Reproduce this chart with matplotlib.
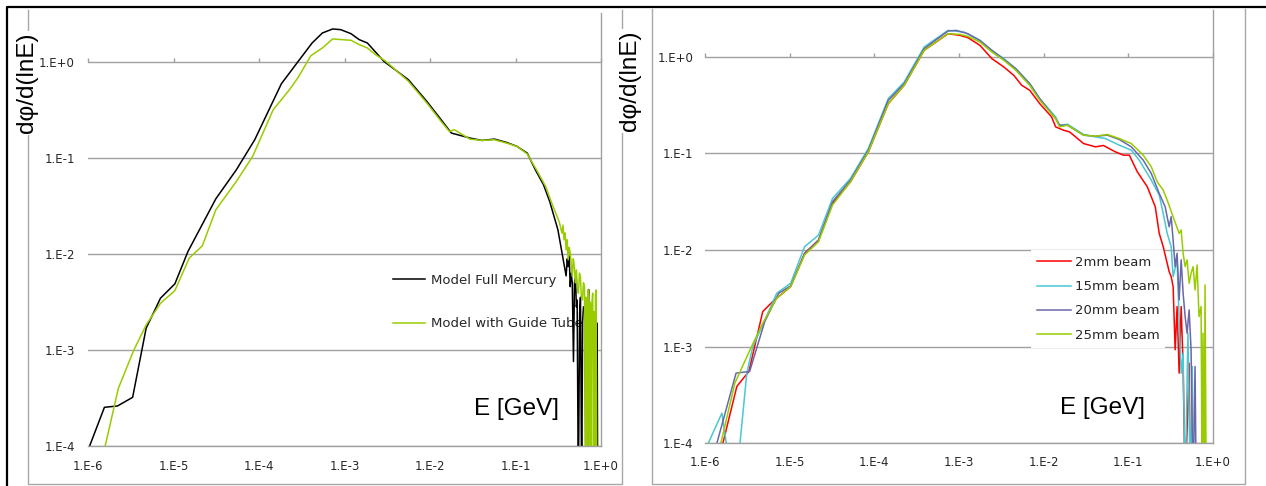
import numpy as np
import matplotlib
matplotlib.use('Agg')
import matplotlib.pyplot as plt
from matplotlib.lines import Line2D
from matplotlib.ticker import NullLocator

# ---------------- data (log10 E [GeV], log10 dphi/d(lnE)) ----------------
# Left panel
full_logE = [-5.981, -5.808, -5.655, -5.478, -5.32, -5.152, -4.984, -4.831, -4.505, -4.265,
             -4.05, -3.738, -3.547, -3.379, -3.259, -3.139, -3.044, -2.924, -2.828, -2.732,
             -2.54, -2.253, -2.037, -1.87, -1.75, -1.534, -1.391, -1.247, -1.103, -0.983,
             -0.863, -0.768, -0.672, -0.60, -0.504, -0.408, -0.395, -0.384, -0.372, -0.36,
             -0.348, -0.336, -0.322, -0.31, -0.298, -0.288, -0.279, -0.265, -0.25, -0.24,
             -0.226, -0.215, -0.205, -0.19, -0.175, -0.16, -0.145, -0.135, -0.10, -0.07,
             -0.045, -0.039]
full_logphi = [-4.0, -3.597, -3.583, -3.493, -2.773, -2.46, -2.311, -1.974, -1.425, -1.123,
               -0.81, -0.226, 0.0, 0.198, 0.302, 0.344, 0.337, 0.295, 0.233, 0.198,
               0.007, -0.184, -0.41, -0.601, -0.74, -0.792, -0.817, -0.803, -0.838, -0.879,
               -0.949, -1.123, -1.279, -1.453, -1.748, -2.228, -2.05, -2.13, -2.02, -2.34,
               -2.20, -2.30, -3.12, -2.30, -2.25, -2.55, -2.48, -4.5, -2.62, -2.45,
               -4.5, -2.70, -2.55, -2.60, -4.5, -2.75, -2.37, -4.5, -4.5, -4.5,
               -2.72, -4.5]

guide_logE = [-5.799, -5.645, -5.463, -5.32, -5.152, -4.984, -4.816, -4.663, -4.505, -4.265,
              -4.074, -3.834, -3.643, -3.547, -3.393, -3.259, -3.139, -2.924, -2.828, -2.732,
              -2.636, -2.517, -2.253, -2.037, -1.87, -1.774, -1.716, -1.534, -1.391, -1.247,
              -1.103, -0.983, -0.863, -0.744, -0.648, -0.576, -0.49, -0.456, -0.445, -0.432,
              -0.42, -0.408, -0.396, -0.384, -0.372, -0.36, -0.348, -0.336, -0.324, -0.312,
              -0.30, -0.288, -0.276, -0.264, -0.252, -0.241, -0.229, -0.217, -0.205, -0.193,
              -0.181, -0.175, -0.169, -0.16, -0.154, -0.145, -0.135, -0.127, -0.12, -0.11,
              -0.097, -0.088, -0.08, -0.073, -0.065, -0.058, -0.049]
guide_logphi = [-4.0, -3.399, -2.999, -2.739, -2.513, -2.381, -2.043, -1.915, -1.54, -1.244,
                -0.983, -0.497, -0.288, -0.167, 0.066, 0.146, 0.24, 0.226, 0.181, 0.146,
                0.076, 0.007, -0.20, -0.427, -0.619, -0.723, -0.705, -0.803, -0.817, -0.81,
                -0.845, -0.879, -0.958, -1.14, -1.296, -1.47, -1.661, -1.783, -1.70, -1.852,
                -1.78, -1.957, -1.85, -2.061, -1.93, -1.99, -2.10, -2.235, -2.05, -2.13,
                -2.30, -2.165, -2.35, -2.408, -2.20, -2.235, -2.45, -2.478, -2.30, -2.339,
                -4.5, -2.45, -2.652, -4.5, -2.40, -2.374, -4.5, -2.50, -4.5, -2.55,
                -2.408, -4.5, -2.60, -4.5, -2.45, -2.374, -4.5]

# Right panel
b2_logE = [-5.788, -5.624, -5.482, -5.318, -5.2, -4.988, -4.824, -4.659, -4.494, -4.282,
           -4.071, -3.835, -3.647, -3.412, -3.271, -3.129, -2.988, -2.894, -2.753, -2.612,
           -2.471, -2.353, -2.259, -2.165, -2.047, -1.906, -1.859, -1.765, -1.694, -1.529,
           -1.388, -1.294, -1.153, -1.059, -0.988, -0.894, -0.776, -0.682, -0.635, -0.588,
           -0.541, -0.518, -0.494, -0.471, -0.447, -0.424, -0.40, -0.376, -0.353, -0.329,
           -0.282, -0.268]
b2_logphi = [-4.0, -3.414, -3.259, -2.638, -2.534, -2.379, -2.034, -1.897, -1.517, -1.293,
             -0.983, -0.483, -0.293, 0.069, 0.155, 0.241, 0.224, 0.2, 0.121, -0.017,
             -0.103, -0.19, -0.293, -0.345, -0.483, -0.621, -0.724, -0.759, -0.776, -0.897,
             -0.931, -0.917, -0.983, -1.017, -1.017, -1.19, -1.345, -1.552, -1.828, -1.966,
             -2.138, -2.224, -2.276, -2.379, -3.034, -2.586, -3.276, -2.586, -3.207, -4.5,
             -3.172, -4.5]

b15_logE = [-5.96, -5.80, -5.70, -5.62, -5.506, -5.435, -5.318, -5.153, -4.988, -4.824,
            -4.659, -4.494, -4.282, -4.071, -3.835, -3.647, -3.412, -3.271, -3.129, -2.941,
            -2.753, -2.612, -2.471, -2.329, -2.165, -2.047, -1.859, -1.812, -1.718, -1.529,
            -1.388, -1.271, -1.106, -0.965, -0.871, -0.729, -0.635, -0.588, -0.541, -0.494,
            -0.471, -0.424, -0.40, -0.376, -0.353, -0.329, -0.296, -0.268, -0.245, -0.231]
b15_logphi = [-4.0, -3.69, -4.3, -4.3, -3.276, -3.0, -2.776, -2.448, -2.345, -1.966,
              -1.845, -1.466, -1.259, -0.948, -0.431, -0.259, 0.103, 0.19, 0.276, 0.259,
              0.172, 0.069, -0.017, -0.121, -0.276, -0.431, -0.621, -0.707, -0.697, -0.803,
              -0.828, -0.845, -0.914, -0.966, -1.069, -1.276, -1.431, -1.621, -1.828, -1.966,
              -2.276, -2.103, -2.724, -3.276, -3.069, -4.5, -2.862, -4.5, -3.207, -4.5]

b20_logE = [-5.859, -5.633, -5.473, -5.294, -5.129, -4.988, -4.824, -4.659, -4.494, -4.282,
            -4.071, -3.835, -3.647, -3.412, -3.271, -3.129, -3.035, -2.894, -2.753, -2.612,
            -2.471, -2.329, -2.165, -2.047, -1.859, -1.812, -1.718, -1.529, -1.388, -1.247,
            -1.106, -0.965, -0.824, -0.729, -0.635, -0.565, -0.518, -0.494, -0.471, -0.447,
            -0.424, -0.40, -0.376, -0.353, -0.329, -0.306, -0.282, -0.259, -0.235, -0.212,
            -0.198]
b20_logphi = [-4.0, -3.276, -3.259, -2.741, -2.448, -2.372, -2.041, -1.897, -1.50, -1.276,
              -0.966, -0.448, -0.276, 0.086, 0.179, 0.269, 0.276, 0.241, 0.172, 0.069,
              -0.024, -0.121, -0.276, -0.431, -0.638, -0.707, -0.707, -0.810, -0.821, -0.81,
              -0.855, -0.931, -1.069, -1.207, -1.414, -1.552, -1.759, -1.655, -1.897, -2.172,
              -2.034, -2.517, -2.103, -2.448, -2.69, -2.862, -2.621, -3.034, -4.5, -3.207,
              -4.5]

b25_logE = [-5.812, -5.647, -5.459, -5.318, -5.153, -4.988, -4.824, -4.659, -4.494, -4.282,
            -4.071, -3.835, -3.647, -3.412, -3.271, -3.129, -2.988, -2.894, -2.753, -2.612,
            -2.471, -2.329, -2.165, -2.047, -1.859, -1.812, -1.718, -1.529, -1.388, -1.247,
            -1.106, -0.965, -0.824, -0.729, -0.659, -0.588, -0.541, -0.471, -0.40, -0.376,
            -0.353, -0.329, -0.306, -0.282, -0.259, -0.235, -0.212, -0.188, -0.165, -0.141,
            -0.127, -0.118, -0.104, -0.094, -0.080]
b25_logphi = [-4.0, -3.379, -3.017, -2.759, -2.50, -2.379, -2.052, -1.914, -1.534, -1.293,
              -0.983, -0.483, -0.293, 0.069, 0.155, 0.241, 0.234, 0.214, 0.155, 0.052,
              -0.034, -0.138, -0.293, -0.448, -0.638, -0.724, -0.707, -0.810, -0.821, -0.803,
              -0.845, -0.897, -1.017, -1.138, -1.293, -1.379, -1.483, -1.655, -1.828, -1.793,
              -2.034, -2.172, -2.103, -2.345, -2.241, -2.172, -2.414, -2.155, -2.690, -2.586,
              -4.5, -2.862, -4.5, -2.362, -4.5]

xtick_labels = ['1.E-6', '1.E-5', '1.E-4', '1.E-3', '1.E-2', '1.E-1', '1.E+0']
ytick_labels = ['1.E-4', '1.E-3', '1.E-2', '1.E-1', '1.E+0']
left_series = [("Model Full Mercury", full_logE, full_logphi, '#000000'),
               ("Model with Guide Tube", guide_logE, guide_logphi, '#99CC00')]
right_series = [("2mm beam", b2_logE, b2_logphi, '#FF0000'),
                ("15mm beam", b15_logE, b15_logphi, '#48C8D2'),
                ("20mm beam", b20_logE, b20_logphi, '#6868A8'),
                ("25mm beam", b25_logE, b25_logphi, '#99CC00')]
xlabel = 'E [GeV]'
ylabel = 'dφ/d(lnE)'

# ---------------- layout ----------------
W, H = 1266, 486
fig = plt.figure(figsize=(W / 100, H / 100), dpi=100)
GRID = '#a0a0a0'
TXT = '#262626'
SANS = ['DejaVu Sans']
ARIAL = ['Liberation Sans', 'DejaVu Sans']


def frac_box(x0, x1, ytop, ybot):
    return [x0 / W, 1 - ybot / H, (x1 - x0) / W, (ybot - ytop) / H]


def make_panel(x0, x1, ytop, ybot, y_one, xpad, ypad):
    ax = fig.add_axes(frac_box(x0, x1, ytop, ybot))
    ax.set_xscale('log')
    ax.set_yscale('log')
    ax.set_xlim(1e-6, 1e0)
    dec_px = (ybot - y_one) / 4.0
    ax.set_ylim(1e-4, 10 ** ((y_one - ytop) / dec_px))
    ax.set_xticks(10.0 ** np.arange(-6, 1))
    ax.set_xticklabels(xtick_labels)
    ax.set_yticks(10.0 ** np.arange(-4, 1))
    ax.set_yticklabels(ytick_labels)
    ax.xaxis.set_minor_locator(NullLocator())
    ax.yaxis.set_minor_locator(NullLocator())
    ax.tick_params(axis='x', length=0, pad=xpad, labelsize=8.5, labelcolor=TXT)
    ax.tick_params(axis='y', length=0, pad=ypad, labelsize=8.5, labelcolor=TXT)
    for lab in ax.get_xticklabels() + ax.get_yticklabels():
        lab.set_family(SANS)
    ax.set_axisbelow(True)
    ax.yaxis.grid(True, color=GRID, lw=1.0)
    ax.spines['left'].set_visible(False)
    ax.spines['top'].set_visible(False)
    ax.spines['right'].set_color(GRID)
    ax.spines['bottom'].set_color(GRID)
    ax.spines['right'].set_linewidth(1.0)
    ax.spines['bottom'].set_linewidth(1.0)
    # small tick marks on the 1.E+0 line
    axt = fig.add_axes([x0 / W, 1 - y_one / H, (x1 - x0) / W, 1e-4], sharex=ax)
    axt.patch.set_visible(False)
    for s in axt.spines.values():
        s.set_visible(False)
    axt.set_yticks([])
    axt.tick_params(axis='x', direction='in', length=3, width=1, color=GRID,
                    labelbottom=False, bottom=True, top=False)
    return ax


axL = make_panel(88, 601, 13, 446, 62, 10, 9.4)
axR = make_panel(705, 1213, 10, 443, 57, 9.7, 8.6)

for name, lx, ly, col in left_series:
    axL.plot(10.0 ** np.array(lx), 10.0 ** np.array(ly), color=col, lw=1.1, label=name)
for name, lx, ly, col in right_series:
    axR.plot(10.0 ** np.array(lx), 10.0 ** np.array(ly), color=col, lw=1.1, label=name)

legL = axL.legend(loc='upper left', bbox_to_anchor=(393 / W, 1 - 274 / H),
                  bbox_transform=fig.transFigure, frameon=False, borderaxespad=0,
                  borderpad=0, handlelength=2.4, handletextpad=0.45, labelspacing=2.3,
                  prop={'family': SANS, 'size': 9.5})
for t in legL.get_texts():
    t.set_color(TXT)
legL.set_zorder(1.8)

legR = axR.legend(loc='upper left', bbox_to_anchor=(1031 / W, 1 - 250 / H),
                  bbox_transform=fig.transFigure, frameon=True, facecolor='white',
                  edgecolor='none', framealpha=1, fancybox=False, borderaxespad=0,
                  borderpad=0.45, handlelength=2.55, handletextpad=0.3, labelspacing=0.85,
                  prop={'family': SANS, 'size': 9.5})
for t in legR.get_texts():
    t.set_color(TXT)
legR.set_zorder(1.8)

# axis titles
fig.text(516 / W, 1 - 409 / H, xlabel, ha='center', va='center', fontsize=17.5,
         family=ARIAL, color='black')
fig.text(1102 / W, 1 - 408 / H, xlabel, ha='center', va='center', fontsize=17.5,
         family=ARIAL, color='black')


# chart-area borders (screenshot frames)
def fline(xs, ys, color, lw):
    fig.add_artist(Line2D([x / W for x in xs], [1 - y / H for y in ys],
                          color=color, lw=lw, transform=fig.transFigure, zorder=0.5))


BOX = '#a8a8a8'
fline([27.5, 27.5, 621.5, 621.5], [10, 484, 484, 10], BOX, 1.0)
fline([652, 652, 1245, 1245], [9, 484, 484, 9], BOX, 1.0)
fline([6.5, 6.5, 1266], [486, 7, 7], 'black', 1.6)

fig.text(27 / W, 1 - 83 / H, ylabel, rotation=90, ha='center', va='center',
         fontsize=17.5, family=ARIAL, color='black',
         bbox=dict(fc='white', ec='none', pad=1.5), zorder=3)
fig.text(630 / W, 1 - 81 / H, ylabel, rotation=90, ha='center', va='center',
         fontsize=17.5, family=ARIAL, color='black',
         bbox=dict(fc='white', ec='none', pad=1.5), zorder=3)

fig.savefig('out.png', dpi=100)
